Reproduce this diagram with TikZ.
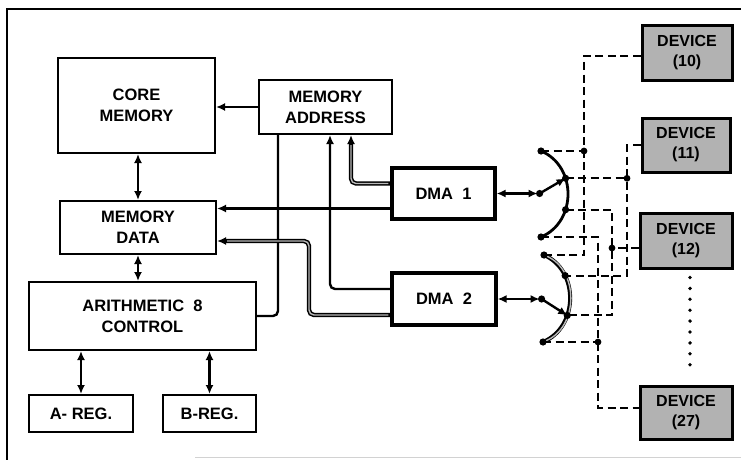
\documentclass[tikz,border=0pt]{standalone}
\usepackage{fontspec}
\setmainfont{Liberation Sans}
\usetikzlibrary{arrows.meta}

\tikzset{
  block/.style={draw, line width=2pt, align=center, inner sep=2pt,
    font=\fontsize{16.5}{21}\selectfont\bfseries},
  dmabox/.style={block, line width=3.2pt},
  devbox/.style={block, line width=3pt, fill=gray!60,
    font=\fontsize{16}{20}\selectfont\bfseries},
  link/.style={line width=2.4pt},
  bus/.style={line width=4.4pt},
  busfill/.style={line width=1.4pt, draw=gray!55},
  sigline/.style={line width=2pt, dash pattern=on 8pt off 4.5pt},
}

\begin{document}
\begin{tikzpicture}[x=1pt, y=-1pt, >={Latex[length=9pt,width=8pt]}]
    \useasboundingbox (0,0) rectangle (741,460);
    % frame
    \draw[line width=2.2pt] (7,460) -- (7,9) -- (741,9);
    \draw[gray!35, line width=1pt] (195,457) -- (741,457);

    % blocks
    \node[block, minimum width=157pt, minimum height=95pt] (core) at (136.5,105.5) {CORE\\MEMORY};
    \node[block, minimum width=133pt, minimum height=54pt] (maddr) at (325.5,107) {MEMORY\\ADDRESS};
    \node[block, minimum width=156pt, minimum height=53pt] (mdata) at (138,227.5) {MEMORY\\DATA};
    \node[block, minimum width=227pt, minimum height=68pt] (arith) at (142.5,316) {ARITHMETIC\ \ 8\\CONTROL};
    \node[block, minimum width=104pt, minimum height=37pt] (areg) at (81,413.5) {A- REG.};
    \node[block, minimum width=93pt, minimum height=37pt] (breg) at (209.5,413.5) {B-REG.};
    \node[dmabox, minimum width=103pt, minimum height=51pt] (dma1) at (443.5,193.5) {DMA\ \ 1};
    \node[dmabox, minimum width=104pt, minimum height=52pt] (dma2) at (444,299) {DMA\ \ 2};
    \node[devbox, minimum width=90pt, minimum height=54pt] (dev10) at (687,53) {DEVICE\\(10)};
    \node[devbox, minimum width=88pt, minimum height=54pt] (dev11) at (686,145) {DEVICE\\(11)};
    \node[devbox, minimum width=92pt, minimum height=55pt] (dev12) at (686,240.5) {DEVICE\\(12)};
    \node[devbox, minimum width=92pt, minimum height=53pt] (dev27) at (686,412.5) {DEVICE\\(27)};

    % memory side
    \draw[link, ->] (maddr.west) -- (maddr.west -| core.east);
    \draw[link, <->] (mdata.north |- core.south) -- (mdata.north);
    \draw[link, <->] (mdata.south) -- (mdata.south |- arith.north);
    \draw[link, <->] (areg.north |- arith.south) -- (areg.north);
    \draw[link, <->] (breg.north |- arith.south) -- (breg.north);
    \draw[link, rounded corners=5pt] (arith.east) -| ([xshift=20pt]maddr.south west);

    % dma to memory
    \coordinate (d1a) at ([yshift=10pt]dma1.west);
    \coordinate (d1b) at ([yshift=-15pt]dma1.west);
    \coordinate (d2a) at ([yshift=10pt]dma2.west);
    \coordinate (d2b) at ([yshift=-16pt]dma2.west);
    \coordinate (bend2) at (309,241);
    \coordinate (md2) at (bend2 -| mdata.east);
    \draw[bus, ->, rounded corners=5pt] (d1a) -| ([xshift=25.5pt]maddr.south);
    \draw[busfill, rounded corners=5pt, shorten <=2pt, shorten >=10pt] (d1a) -| ([xshift=25.5pt]maddr.south);
    \draw[link, ->] (d1b) -- (d1b -| mdata.east);
    \draw[link, ->, rounded corners=5pt] (d2a) -| ([xshift=4.5pt]maddr.south);
    \draw[bus, ->, rounded corners=5pt] (d2b) -| (bend2) -- (md2);
    \draw[busfill, rounded corners=5pt, shorten <=2pt, shorten >=10pt] (d2b) -| (bend2) -- (md2);

    % switches
    \coordinate (s1a) at (541,151);
    \coordinate (s1d) at (541,237);
    \coordinate (s2a) at (544,255);
    \coordinate (s2d) at (543,342);
    \draw[line width=2.8pt] (s1a) .. controls (577,166) and (577,222) .. (s1d)
        node[pos=0.35, coordinate] (s1b) {} node[pos=0.65, coordinate] (s1c) {};
    \draw[line width=4pt] (s2a) .. controls (579,270) and (579,327) .. (s2d)
        node[pos=0.28, coordinate] (s2b) {} node[pos=0.66, coordinate] (s2c) {};
    \draw[line width=1.4pt, gray!55, shorten <=3pt, shorten >=3pt] (s2a) .. controls (579,270) and (579,327) .. (s2d);
    \coordinate (p1) at ([xshift=43pt]dma1.east);
    \coordinate (p2) at ([xshift=44pt]dma2.east);
    \draw[link, <->, shorten >=2pt] (dma1.east) -- (p1);
    \draw[link, ->] (p1) -- (s1b);
    \draw[link, <->, shorten >=2pt] (dma2.east) -- (p2);
    \draw[link, ->] (p2) -- (s2c);

    % device lines
    \coordinate (x10) at (584,0);
    \coordinate (x27) at (598,0);
    \coordinate (x12) at (612,0);
    \coordinate (x11) at (627,0);
    \coordinate (d10w) at ([yshift=-3pt]dev10.west);
    \coordinate (d12w) at ([yshift=-7.5pt]dev12.west);
    \coordinate (d27w) at ([yshift=4.5pt]dev27.west);
    \draw[sigline] (d10w) -| (x10 |- s2a) -- (s2a);
    \draw[sigline] (s1a) -- (s1a -| x10);
    \draw[sigline] (dev11.west) -| (x11 |- s2b) -- (s2b);
    \draw[sigline] (s1b) -- (s1b -| x11);
    \draw[sigline] (s1c) -| (x12 |- s2c) -- (s2c);
    \draw[sigline] (d12w) -- (d12w -| x12);
    \draw[sigline] (s1d) -| (x27 |- d27w) -- (d27w);
    \draw[sigline] (s2d) -- (s2d -| x27);
    \draw[line width=3.8pt, line cap=round, dash pattern=on 0pt off 10.9pt]
        ([xshift=4pt,yshift=-8pt]dev12.south) -- ([xshift=4pt,yshift=12pt]dev27.north);

    % junction dots
    \foreach \p in {s1a, s1b, s1c, s1d, s2a, s2b, s2c, s2d, p1, p2}
        \fill (\p) circle (3.6pt);
    \fill (s1a -| x10) circle (3.4pt);
    \fill (s1b -| x11) circle (3.4pt);
    \fill (d12w -| x12) circle (3.4pt);
    \fill (s2d -| x27) circle (3.4pt);
\end{tikzpicture}
\end{document}
